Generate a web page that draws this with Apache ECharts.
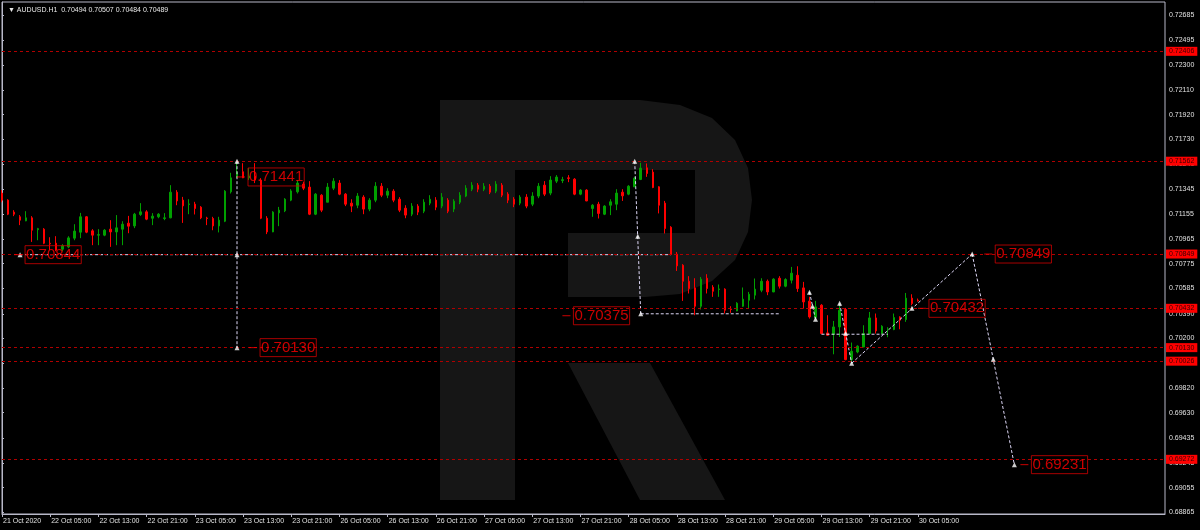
<!DOCTYPE html>
<html><head><meta charset="utf-8">
<script src="https://cdn.jsdelivr.net/npm/echarts@6/dist/echarts.min.js"></script>
<style>html,body{margin:0;padding:0;background:#000;}#c{width:1200px;height:530px;}</style>
</head><body><div id="c"></div>
<script>
const symbolName = 'AUDUSD.H1';
const lastQuote = [0.70494, 0.70507, 0.70484, 0.70489]; // O H L C of the live bar

// Hourly bars, each row = [open, high, low, close]
const oct21 = [
 [0.71317,0.71340,0.71247,0.71263],[0.71263,0.71270,0.71148,0.71155],[0.71171,0.71186,0.71140,0.71155]
];
const oct22 = [
 [0.71135,0.71148,0.71071,0.71109],[0.71104,0.71178,0.71101,0.71127],[0.71127,0.71140,0.70942,0.71032],
 [0.71036,0.71050,0.70955,0.71044],[0.71040,0.71048,0.70925,0.70932],[0.70932,0.70978,0.70879,0.70927],
 [0.70932,0.70986,0.70871,0.70879],[0.70886,0.70925,0.70871,0.70912],[0.70904,0.70986,0.70894,0.70973],
 [0.70971,0.71078,0.70955,0.71025],[0.71017,0.71165,0.70971,0.71135],[0.71135,0.71140,0.71009,0.71017],
 [0.71027,0.71040,0.70917,0.70994],[0.70994,0.71040,0.70917,0.70998],[0.70994,0.71040,0.70986,0.71032],
 [0.71040,0.71109,0.70904,0.71019],[0.71019,0.71148,0.70917,0.71050],[0.71040,0.71101,0.70917,0.71078],
 [0.71086,0.71142,0.71009,0.71063],[0.71065,0.71165,0.71048,0.71155],[0.71153,0.71240,0.71142,0.71173],
 [0.71173,0.71186,0.71109,0.71117],[0.71124,0.71163,0.71071,0.71140],[0.71135,0.71163,0.71124,0.71155]
];
const oct23 = [
 [0.71122,0.71163,0.71109,0.71127],[0.71127,0.71378,0.71124,0.71324],[0.71324,0.71340,0.71224,0.71257],
 [0.71263,0.71288,0.71088,0.71219],[0.71230,0.71270,0.71155,0.71234],[0.71232,0.71250,0.71153,0.71199],
 [0.71209,0.71217,0.71117,0.71127],[0.71126,0.71135,0.71071,0.71122],[0.71122,0.71135,0.71032,0.71065],
 [0.71065,0.71135,0.71015,0.71109],[0.71101,0.71340,0.71094,0.71332],[0.71327,0.71473,0.71314,0.71434],
 [0.71437,0.71547,0.71432,0.71478],[0.71481,0.71547,0.71432,0.71434],[0.71434,0.71509,0.71417,0.71447],
 [0.71447,0.71547,0.71394,0.71417],[0.71417,0.71432,0.71117,0.71124],[0.71124,0.71140,0.71002,0.71019],
 [0.71019,0.71178,0.71017,0.71171],[0.71165,0.71211,0.71063,0.71186],[0.71181,0.71278,0.71171,0.71270],
 [0.71263,0.71347,0.71255,0.71334],[0.71327,0.71417,0.71314,0.71394],[0.71386,0.71404,0.71340,0.71355]
];
const oct26 = [
 [0.71363,0.71409,0.71148,0.71155],[0.71155,0.71317,0.71148,0.71309],[0.71301,0.71309,0.71171,0.71186],
 [0.71247,0.71394,0.71247,0.71363],[0.71355,0.71432,0.71340,0.71409],[0.71394,0.71417,0.71301,0.71309],
 [0.71309,0.71317,0.71217,0.71232],[0.71240,0.71270,0.71171,0.71217],[0.71224,0.71317,0.71201,0.71294],
 [0.71286,0.71301,0.71155,0.71194],[0.71194,0.71278,0.71178,0.71263],[0.71263,0.71401,0.71247,0.71370],
 [0.71370,0.71394,0.71286,0.71301],[0.71301,0.71355,0.71278,0.71332],[0.71332,0.71347,0.71247,0.71263],
 [0.71270,0.71286,0.71171,0.71186],[0.71201,0.71224,0.71124,0.71148],[0.71155,0.71240,0.71140,0.71217],
 [0.71217,0.71232,0.71148,0.71171],[0.71178,0.71270,0.71163,0.71247],[0.71240,0.71301,0.71224,0.71270],
 [0.71263,0.71286,0.71186,0.71209],[0.71217,0.71317,0.71201,0.71286],[0.71263,0.71278,0.71163,0.71178]
];
const oct27 = [
 [0.71194,0.71270,0.71171,0.71255],[0.71247,0.71324,0.71232,0.71301],[0.71294,0.71378,0.71286,0.71355],
 [0.71347,0.71401,0.71332,0.71378],[0.71378,0.71394,0.71324,0.71347],[0.71347,0.71394,0.71332,0.71370],
 [0.71370,0.71386,0.71309,0.71324],[0.71332,0.71409,0.71317,0.71386],[0.71378,0.71394,0.71286,0.71301],
 [0.71309,0.71324,0.71240,0.71263],[0.71270,0.71286,0.71209,0.71232],[0.71240,0.71301,0.71224,0.71286],
 [0.71286,0.71309,0.71201,0.71217],[0.71232,0.71324,0.71217,0.71294],[0.71294,0.71394,0.71278,0.71370],
 [0.71378,0.71409,0.71294,0.71309],[0.71317,0.71447,0.71301,0.71417],[0.71409,0.71455,0.71394,0.71440],
 [0.71413,0.71442,0.71394,0.71420],[0.71434,0.71455,0.71401,0.71430],[0.71424,0.71432,0.71301,0.71309],
 [0.71309,0.71347,0.71301,0.71340],[0.71340,0.71347,0.71255,0.71257],[0.71199,0.71232,0.71135,0.71224]
];
const oct28 = [
 [0.71232,0.71250,0.71122,0.71161],[0.71155,0.71224,0.71148,0.71217],[0.71224,0.71270,0.71148,0.71250],
 [0.71232,0.71347,0.71186,0.71317],[0.71324,0.71347,0.71257,0.71296],[0.71309,0.71378,0.71301,0.71370],
 [0.71365,0.71442,0.71363,0.71432],[0.71422,0.71550,0.71417,0.71509],[0.71511,0.71545,0.71442,0.71468],
 [0.71478,0.71501,0.71355,0.71360],[0.71365,0.71370,0.71161,0.71224],[0.71240,0.71257,0.71007,0.71045],
 [0.71055,0.71063,0.70840,0.70845],[0.70848,0.70865,0.70719,0.70758],[0.70763,0.70771,0.70489,0.70640],
 [0.70640,0.70679,0.70546,0.70584],[0.70589,0.70663,0.70379,0.70448],[0.70448,0.70673,0.70423,0.70656],
 [0.70663,0.70694,0.70546,0.70584],[0.70594,0.70610,0.70520,0.70563],[0.70576,0.70615,0.70520,0.70581],
 [0.70579,0.70586,0.70392,0.70417],[0.70427,0.70448,0.70397,0.70423],[0.70412,0.70479,0.70410,0.70471]
];
const oct29 = [
 [0.70448,0.70592,0.70443,0.70502],[0.70494,0.70558,0.70430,0.70540],[0.70533,0.70661,0.70500,0.70579],
 [0.70571,0.70663,0.70556,0.70640],[0.70640,0.70653,0.70533,0.70558],[0.70558,0.70663,0.70556,0.70656],
 [0.70663,0.70679,0.70584,0.70602],[0.70602,0.70663,0.70594,0.70653],[0.70648,0.70750,0.70623,0.70702],
 [0.70686,0.70755,0.70558,0.70584],[0.70589,0.70635,0.70430,0.70481],[0.70487,0.70520,0.70353,0.70366],
 [0.70361,0.70489,0.70348,0.70443],[0.70456,0.70464,0.70233,0.70238],[0.70243,0.70379,0.70221,0.70225],
 [0.70233,0.70335,0.70079,0.70289],[0.70289,0.70456,0.70212,0.70417],[0.70423,0.70435,0.70033,0.70038],
 [0.70038,0.70169,0.70025,0.70102],[0.70097,0.70148,0.70087,0.70141],[0.70135,0.70302,0.70133,0.70238],
 [0.70238,0.70404,0.70233,0.70358],[0.70358,0.70392,0.70238,0.70258],[0.70238,0.70302,0.70233,0.70294]
];
const oct30 = [
 [0.70269,0.70287,0.70210,0.70274],[0.70269,0.70392,0.70264,0.70361],[0.70366,0.70371,0.70271,0.70341],
 [0.70346,0.70550,0.70328,0.70510],[0.70510,0.70540,0.70456,0.70469],
 lastQuote
];

const timeTicks = ['21 Oct 2020','22 Oct 05:00','22 Oct 13:00','22 Oct 21:00','23 Oct 05:00','23 Oct 13:00',
 '23 Oct 21:00','26 Oct 05:00','26 Oct 13:00','26 Oct 21:00','27 Oct 05:00','27 Oct 13:00','27 Oct 21:00',
 '28 Oct 05:00','28 Oct 13:00','28 Oct 21:00','29 Oct 05:00','29 Oct 13:00','29 Oct 21:00','30 Oct 05:00'];
const priceTicks = [0.72685,0.72495,0.72300,0.72110,0.71920,0.71730,0.71540,0.71345,0.71155,0.70965,0.70775,
 0.70585,0.70390,0.70200,0.70010,0.69820,0.69630,0.69435,0.69245,0.69055,0.68865];

// horizontal levels (red dashed) and their axis tags
const levels = [0.72406, 0.71562, 0.70849, 0.70432, 0.70130, 0.70026, 0.69272];

// analysis drawings: [bar, price] anchors
const guideSegments = [
 [[3,0.70844],[111,0.70844]],
 [[39,0.71562],[39,0.70130]],
 [[105,0.71562],[106,0.70390]],
 [[106,0.70390],[129,0.70390]],
 [[134,0.70556],[135,0.70348]],
 [[136,0.70233],[147,0.70233]],
 [[139,0.70471],[141,0.70010]],
 [[141,0.70010],[161,0.70849]],
 [[161,0.70849],[168,0.69231]]
];
const guidePoints = [[3,0.70844],[39,0.71562],[39,0.70844],[39,0.70130],[105,0.71562],[105.5,0.70985],[106,0.70390],
 [134,0.70556],[134.5,0.70448],[135,0.70348],[139,0.70471],[140,0.70241],[141,0.70010],
 [151,0.70432],[161,0.70849],[164.5,0.70040],[168,0.69231]];
const priceNotes = [[39,0.71441],[2,0.70844],[41,0.70130],[93,0.70375],[152,0.70432],[163,0.70849],[169,0.69231]];

const FONT = 'Liberation Sans';
const sessions = [['21 Oct',21,oct21],['22 Oct',0,oct22],['23 Oct',0,oct23],['26 Oct',0,oct26],
 ['27 Oct',0,oct27],['28 Oct',0,oct28],['29 Oct',0,oct29],['30 Oct',0,oct30]];
const categories = [], candles = [];
sessions.forEach(([day, h0, rows]) => rows.forEach((r, k) => {
  categories.push(day + ' ' + String(h0 + k).padStart(2, '0') + ':00');
  candles.push([r[0], r[3], r[2], r[1]]);
}));
const lastIdx = candles.length - 1;
const N = 194;
while (categories.length < N) categories.push('');

const chart = echarts.init(document.getElementById('c'), null, {renderer: 'canvas', width: 1200, height: 530});
const WM = '#161616';
const showTick = (idx) => idx % 8 === 0 && idx <= lastIdx;

const option = {
  backgroundColor: '#000000',
  animation: false,
  title: {
    text: '\u25BC ' + symbolName + '  ' + lastQuote.map(v => v.toFixed(5)).join(' '),
    left: 3, top: 2,
    textStyle: {color: '#e8e8e8', fontSize: 7, fontWeight: 'normal', fontFamily: FONT}
  },
  graphic: [
    {type: 'rect', z: 0, silent: true, shape: {x: 440, y: 100, width: 75, height: 400}, style: {fill: WM}},
    {type: 'polygon', z: 0, silent: true, shape: {points: [[515,100],[640,100],[680,105],[712,118],[735,140],[748,168],[752,200],
      [748,232],[735,260],[712,281],[680,294],[645,297],[568,297],[568,233],[695,233],[695,170],[515,170]]}, style: {fill: WM}},
    {type: 'polygon', z: 0, silent: true, shape: {points: [[568,363],[650,363],[725,500],[640,500]]}, style: {fill: WM}}
  ],
  grid: {left: 2, right: 35, top: 2, bottom: 16, show: true, borderColor: '#b8b8c8', borderWidth: 1, backgroundColor: 'transparent'},
  xAxis: [{
    type: 'category', data: categories, boundaryGap: false,
    axisLine: {show: true, lineStyle: {color: '#b8b8c8'}},
    axisTick: {show: true, length: 3, interval: showTick, lineStyle: {color: '#b8b8c8'}},
    axisLabel: {interval: showTick, formatter: (v, idx) => timeTicks[idx / 8], align: 'left', margin: 4,
      color: '#e0e0e0', fontSize: 7, fontFamily: FONT, padding: [0, 0, 0, 1]},
    splitLine: {show: false}
  }, {
    type: 'value', min: 0, max: N - 1, show: false
  }],
  yAxis: {
    type: 'value', position: 'right', min: 0.68852, max: 0.72785, scale: true,
    axisLine: {show: true, lineStyle: {color: '#b8b8c8'}},
    axisTick: {show: true, length: 2, customValues: priceTicks, lineStyle: {color: '#b8b8c8'}},
    axisLabel: {customValues: priceTicks, formatter: v => v.toFixed(5), margin: 4, color: '#e0e0e0', fontSize: 7, fontFamily: FONT},
    splitLine: {show: false}
  },
  series: [
    {
      type: 'candlestick', data: candles, barWidth: 2, z: 3,
      itemStyle: {color: '#00a000', color0: '#ff0000', borderColor: '#00a000', borderColor0: '#ff0000', borderWidth: 1},
      markLine: {
        symbol: 'none', silent: true, animation: false, precision: 5,
        lineStyle: {color: '#b00000', type: [3, 3], width: 1},
        label: {show: true, position: 'end', distance: 1, formatter: p => Number(p.value).toFixed(5),
          backgroundColor: '#ff0000', color: '#3a0000', fontSize: 7, fontFamily: FONT, padding: [1, 3, 1, 3]},
        data: levels.map(v => ({yAxis: v})).concat([{
          yAxis: lastQuote[3], lineStyle: {opacity: 0},
          label: {backgroundColor: '#ffffff', color: '#000000'}
        }])
      }
    },
    ...guideSegments.map(seg => ({
      type: 'line', xAxisIndex: 1, data: seg, showSymbol: false, z: 4, silent: true,
      lineStyle: {color: '#dcd6f5', width: 1, type: [3, 2]}
    })),
    {
      type: 'scatter', xAxisIndex: 1, data: guidePoints, symbol: 'triangle', symbolSize: 5, z: 5, silent: true,
      itemStyle: {color: '#ffffff'}
    },
    {
      type: 'scatter', xAxisIndex: 1, data: priceNotes, symbol: 'rect', symbolSize: [8, 1], symbolOffset: [4, 0], z: 6, silent: true,
      itemStyle: {color: '#ff0000'},
      label: {show: true, position: 'right', distance: 3, formatter: p => p.value[1].toFixed(5),
        color: '#ff0000', fontSize: 15, fontFamily: FONT, lineHeight: 15,
        borderColor: '#d00000', borderWidth: 1, padding: [2, 1, 1, 1]}
    }
  ]
};
chart.setOption(option);
</script>
</body></html>
